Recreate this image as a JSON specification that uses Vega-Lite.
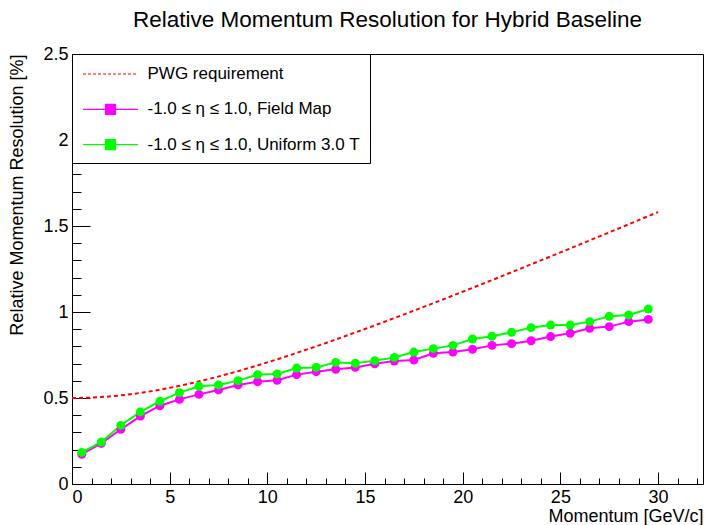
{
  "$schema": "https://vega.github.io/schema/vega-lite/v6.json",
  "width": 631,
  "height": 430,
  "autosize": "none",
  "padding": {"left": 72, "top": 54, "right": 2, "bottom": 41},
  "background": "white",
  "config": {
    "font": "Liberation Sans",
    "view": {"stroke": "black", "strokeWidth": 1},
    "axis": {"grid": false, "domain": false, "tickColor": "black", "tickWidth": 1, "labelColor": "black", "titleColor": "black", "labelFont": "Liberation Sans", "titleFont": "Liberation Sans", "titleFontWeight": "normal", "labelFontSize": 18, "titleFontSize": 18}
  },
  "title": {"text": "Relative Momentum Resolution for Hybrid Baseline", "font": "Liberation Sans", "fontSize": 22.5, "fontWeight": "normal", "color": "black", "anchor": "middle", "offset": 14},
  "datasets": {
    "pwg": [
      {"p": 0, "r": 0.5, "series": "PWG requirement"},
      {"p": 1, "r": 0.5025, "series": "PWG requirement"},
      {"p": 2, "r": 0.5099, "series": "PWG requirement"},
      {"p": 3, "r": 0.522, "series": "PWG requirement"},
      {"p": 4, "r": 0.5385, "series": "PWG requirement"},
      {"p": 5, "r": 0.559, "series": "PWG requirement"},
      {"p": 6, "r": 0.5831, "series": "PWG requirement"},
      {"p": 7, "r": 0.6103, "series": "PWG requirement"},
      {"p": 8, "r": 0.6403, "series": "PWG requirement"},
      {"p": 9, "r": 0.6727, "series": "PWG requirement"},
      {"p": 10, "r": 0.7071, "series": "PWG requirement"},
      {"p": 11, "r": 0.7433, "series": "PWG requirement"},
      {"p": 12, "r": 0.781, "series": "PWG requirement"},
      {"p": 13, "r": 0.8201, "series": "PWG requirement"},
      {"p": 14, "r": 0.8602, "series": "PWG requirement"},
      {"p": 15, "r": 0.9014, "series": "PWG requirement"},
      {"p": 16, "r": 0.9434, "series": "PWG requirement"},
      {"p": 17, "r": 0.9862, "series": "PWG requirement"},
      {"p": 18, "r": 1.0296, "series": "PWG requirement"},
      {"p": 19, "r": 1.0735, "series": "PWG requirement"},
      {"p": 20, "r": 1.118, "series": "PWG requirement"},
      {"p": 21, "r": 1.163, "series": "PWG requirement"},
      {"p": 22, "r": 1.2083, "series": "PWG requirement"},
      {"p": 23, "r": 1.254, "series": "PWG requirement"},
      {"p": 24, "r": 1.3, "series": "PWG requirement"},
      {"p": 25, "r": 1.3463, "series": "PWG requirement"},
      {"p": 26, "r": 1.3928, "series": "PWG requirement"},
      {"p": 27, "r": 1.4396, "series": "PWG requirement"},
      {"p": 28, "r": 1.4866, "series": "PWG requirement"},
      {"p": 29, "r": 1.5338, "series": "PWG requirement"},
      {"p": 30, "r": 1.5811, "series": "PWG requirement"}
    ],
    "meas": [
      {"p": 0.5, "r": 0.173, "series": "-1.0 ≤ η ≤ 1.0, Field Map"},
      {"p": 1.5, "r": 0.236, "series": "-1.0 ≤ η ≤ 1.0, Field Map"},
      {"p": 2.5, "r": 0.318, "series": "-1.0 ≤ η ≤ 1.0, Field Map"},
      {"p": 3.5, "r": 0.395, "series": "-1.0 ≤ η ≤ 1.0, Field Map"},
      {"p": 4.5, "r": 0.455, "series": "-1.0 ≤ η ≤ 1.0, Field Map"},
      {"p": 5.5, "r": 0.492, "series": "-1.0 ≤ η ≤ 1.0, Field Map"},
      {"p": 6.5, "r": 0.521, "series": "-1.0 ≤ η ≤ 1.0, Field Map"},
      {"p": 7.5, "r": 0.547, "series": "-1.0 ≤ η ≤ 1.0, Field Map"},
      {"p": 8.5, "r": 0.576, "series": "-1.0 ≤ η ≤ 1.0, Field Map"},
      {"p": 9.5, "r": 0.595, "series": "-1.0 ≤ η ≤ 1.0, Field Map"},
      {"p": 10.5, "r": 0.603, "series": "-1.0 ≤ η ≤ 1.0, Field Map"},
      {"p": 11.5, "r": 0.636, "series": "-1.0 ≤ η ≤ 1.0, Field Map"},
      {"p": 12.5, "r": 0.653, "series": "-1.0 ≤ η ≤ 1.0, Field Map"},
      {"p": 13.5, "r": 0.667, "series": "-1.0 ≤ η ≤ 1.0, Field Map"},
      {"p": 14.5, "r": 0.678, "series": "-1.0 ≤ η ≤ 1.0, Field Map"},
      {"p": 15.5, "r": 0.699, "series": "-1.0 ≤ η ≤ 1.0, Field Map"},
      {"p": 16.5, "r": 0.715, "series": "-1.0 ≤ η ≤ 1.0, Field Map"},
      {"p": 17.5, "r": 0.721, "series": "-1.0 ≤ η ≤ 1.0, Field Map"},
      {"p": 18.5, "r": 0.76, "series": "-1.0 ≤ η ≤ 1.0, Field Map"},
      {"p": 19.5, "r": 0.767, "series": "-1.0 ≤ η ≤ 1.0, Field Map"},
      {"p": 20.5, "r": 0.783, "series": "-1.0 ≤ η ≤ 1.0, Field Map"},
      {"p": 21.5, "r": 0.806, "series": "-1.0 ≤ η ≤ 1.0, Field Map"},
      {"p": 22.5, "r": 0.816, "series": "-1.0 ≤ η ≤ 1.0, Field Map"},
      {"p": 23.5, "r": 0.833, "series": "-1.0 ≤ η ≤ 1.0, Field Map"},
      {"p": 24.5, "r": 0.857, "series": "-1.0 ≤ η ≤ 1.0, Field Map"},
      {"p": 25.5, "r": 0.876, "series": "-1.0 ≤ η ≤ 1.0, Field Map"},
      {"p": 26.5, "r": 0.905, "series": "-1.0 ≤ η ≤ 1.0, Field Map"},
      {"p": 27.5, "r": 0.915, "series": "-1.0 ≤ η ≤ 1.0, Field Map"},
      {"p": 28.5, "r": 0.944, "series": "-1.0 ≤ η ≤ 1.0, Field Map"},
      {"p": 29.5, "r": 0.957, "series": "-1.0 ≤ η ≤ 1.0, Field Map"},
      {"p": 0.5, "r": 0.184, "series": "-1.0 ≤ η ≤ 1.0, Uniform 3.0 T"},
      {"p": 1.5, "r": 0.244, "series": "-1.0 ≤ η ≤ 1.0, Uniform 3.0 T"},
      {"p": 2.5, "r": 0.341, "series": "-1.0 ≤ η ≤ 1.0, Uniform 3.0 T"},
      {"p": 3.5, "r": 0.419, "series": "-1.0 ≤ η ≤ 1.0, Uniform 3.0 T"},
      {"p": 4.5, "r": 0.481, "series": "-1.0 ≤ η ≤ 1.0, Uniform 3.0 T"},
      {"p": 5.5, "r": 0.531, "series": "-1.0 ≤ η ≤ 1.0, Uniform 3.0 T"},
      {"p": 6.5, "r": 0.568, "series": "-1.0 ≤ η ≤ 1.0, Uniform 3.0 T"},
      {"p": 7.5, "r": 0.576, "series": "-1.0 ≤ η ≤ 1.0, Uniform 3.0 T"},
      {"p": 8.5, "r": 0.601, "series": "-1.0 ≤ η ≤ 1.0, Uniform 3.0 T"},
      {"p": 9.5, "r": 0.636, "series": "-1.0 ≤ η ≤ 1.0, Uniform 3.0 T"},
      {"p": 10.5, "r": 0.64, "series": "-1.0 ≤ η ≤ 1.0, Uniform 3.0 T"},
      {"p": 11.5, "r": 0.674, "series": "-1.0 ≤ η ≤ 1.0, Uniform 3.0 T"},
      {"p": 12.5, "r": 0.678, "series": "-1.0 ≤ η ≤ 1.0, Uniform 3.0 T"},
      {"p": 13.5, "r": 0.707, "series": "-1.0 ≤ η ≤ 1.0, Uniform 3.0 T"},
      {"p": 14.5, "r": 0.702, "series": "-1.0 ≤ η ≤ 1.0, Uniform 3.0 T"},
      {"p": 15.5, "r": 0.717, "series": "-1.0 ≤ η ≤ 1.0, Uniform 3.0 T"},
      {"p": 16.5, "r": 0.736, "series": "-1.0 ≤ η ≤ 1.0, Uniform 3.0 T"},
      {"p": 17.5, "r": 0.767, "series": "-1.0 ≤ η ≤ 1.0, Uniform 3.0 T"},
      {"p": 18.5, "r": 0.787, "series": "-1.0 ≤ η ≤ 1.0, Uniform 3.0 T"},
      {"p": 19.5, "r": 0.806, "series": "-1.0 ≤ η ≤ 1.0, Uniform 3.0 T"},
      {"p": 20.5, "r": 0.843, "series": "-1.0 ≤ η ≤ 1.0, Uniform 3.0 T"},
      {"p": 21.5, "r": 0.859, "series": "-1.0 ≤ η ≤ 1.0, Uniform 3.0 T"},
      {"p": 22.5, "r": 0.882, "series": "-1.0 ≤ η ≤ 1.0, Uniform 3.0 T"},
      {"p": 23.5, "r": 0.909, "series": "-1.0 ≤ η ≤ 1.0, Uniform 3.0 T"},
      {"p": 24.5, "r": 0.924, "series": "-1.0 ≤ η ≤ 1.0, Uniform 3.0 T"},
      {"p": 25.5, "r": 0.924, "series": "-1.0 ≤ η ≤ 1.0, Uniform 3.0 T"},
      {"p": 26.5, "r": 0.944, "series": "-1.0 ≤ η ≤ 1.0, Uniform 3.0 T"},
      {"p": 27.5, "r": 0.975, "series": "-1.0 ≤ η ≤ 1.0, Uniform 3.0 T"},
      {"p": 28.5, "r": 0.983, "series": "-1.0 ≤ η ≤ 1.0, Uniform 3.0 T"},
      {"p": 29.5, "r": 1.017, "series": "-1.0 ≤ η ≤ 1.0, Uniform 3.0 T"}
    ]
  },
  "resolve": {"axis": {"x": "independent", "y": "independent"}},
  "layer": [
    {
      "data": {"name": "pwg"},
      "mark": {"type": "line", "strokeDash": [4, 3], "strokeWidth": 2, "interpolate": "monotone"},
      "encoding": {
        "x": {"field": "p", "type": "quantitative", "scale": {"domain": [0, 32.3], "nice": false, "zero": false},
          "axis": {"orient": "bottom", "values": [0, 5, 10, 15, 20, 25, 30], "tickSize": -12, "labelPadding": 16, "format": "~g", "title": "Momentum [GeV/c]", "titleAnchor": "end", "titlePadding": 1}},
        "y": {"field": "r", "type": "quantitative", "scale": {"domain": [0, 2.5], "nice": false, "zero": false},
          "axis": {"orient": "left", "values": [0, 0.5, 1, 1.5, 2, 2.5], "tickSize": -18, "labelPadding": 22, "format": "~g", "title": "Relative Momentum Resolution [%]", "titleAnchor": "end", "titlePadding": 16}},
        "color": {"field": "series", "type": "nominal",
          "scale": {"domain": ["PWG requirement", "-1.0 ≤ η ≤ 1.0, Field Map", "-1.0 ≤ η ≤ 1.0, Uniform 3.0 T"], "range": ["#ff0000", "#ff00ff", "#00ff00"]},
          "legend": {"orient": "top-left", "offset": 0, "title": null, "padding": 10, "strokeColor": "black", "fillColor": "white",
            "labelFont": "Liberation Sans", "labelFontSize": 17, "labelColor": "black", "labelOffset": 27, "labelLimit": 400,
            "symbolSize": 324, "symbolOffset": 18.5, "symbolStrokeWidth": 1.2, "rowPadding": 17.3,
            "encoding": {"symbols": {
              "shape": {"value": {"expr": "datum.value === 'PWG requirement' ? 'M-3.05,0H3.05' : 'M-3.05,0H3.05M-0.556,-0.556H0.556V0.556H-0.556Z'"}},
              "strokeDash": {"value": {"expr": "datum.value === 'PWG requirement' ? [3, 2] : [1, 0]"}},
              "fill": {"value": {"expr": "datum.value === 'PWG requirement' ? 'transparent' : scale('color', datum.value)"}},
              "opacity": {"value": 1},
              "fillOpacity": {"value": 1},
              "strokeOpacity": {"value": 1}
            }}}}
      }
    },
    {
      "data": {"name": "meas"},
      "mark": {"type": "line", "strokeWidth": 2},
      "encoding": {
        "x": {"field": "p", "type": "quantitative", "axis": {"orient": "bottom", "values": [0,1,2,3,4,5,6,7,8,9,10,11,12,13,14,15,16,17,18,19,20,21,22,23,24,25,26,27,28,29,30,31,32], "tickSize": -6, "labels": false, "title": null}},
        "y": {"field": "r", "type": "quantitative", "axis": {"orient": "left", "values": [0,0.1,0.2,0.3,0.4,0.5,0.6,0.7,0.8,0.9,1,1.1,1.2,1.3,1.4,1.5,1.6,1.7,1.8,1.9,2,2.1,2.2,2.3,2.4,2.5], "tickSize": -9, "labels": false, "title": null}},
        "color": {"field": "series", "type": "nominal"}
      }
    },
    {
      "data": {"name": "meas"},
      "mark": {"type": "circle", "size": 80, "opacity": 1},
      "encoding": {
        "x": {"field": "p", "type": "quantitative", "axis": null},
        "y": {"field": "r", "type": "quantitative", "axis": null},
        "color": {"field": "series", "type": "nominal"}
      }
    }
  ]
}
